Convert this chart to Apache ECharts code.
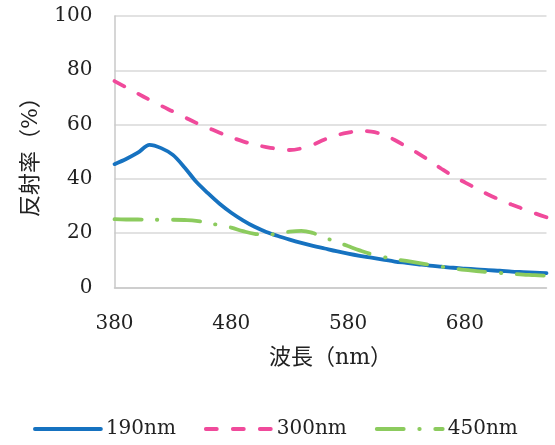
<!DOCTYPE html>
<html><head><meta charset="utf-8">
<script src="https://cdn.jsdelivr.net/npm/echarts@6/dist/echarts.min.js"></script>
<style>html,body{margin:0;padding:0;background:#fff}#c{width:555px;height:445px}</style>
</head><body><div id="c"></div>
<script>
const wavelengths = [380,390,400,410,420,430,440,450,460,470,480,490,500,510,520,530,540,550,560,570,580,590,600,610,620,630,640,650,660,670,680,690,700,710,720,730,740,750];
const r190 = [45.4,47.3,49.6,52.5,51.3,48.8,44.2,38.9,34.7,30.8,27.5,24.7,22.3,20.4,18.9,17.6,16.4,15.3,14.3,13.3,12.4,11.6,10.9,10.2,9.5,9.0,8.5,8.0,7.6,7.2,6.9,6.6,6.3,6.1,5.8,5.6,5.4,5.2];
const r300 = [76.0,73.7,71.4,69.1,66.9,64.8,62.7,60.6,58.8,57.0,55.3,53.8,52.6,51.7,51.0,50.6,51.2,52.6,54.5,56.0,57.0,57.6,57.4,56.2,54.3,51.8,49.4,46.6,43.7,41.0,38.7,36.4,34.2,32.3,30.5,28.9,27.3,25.8];
const r450 = [25.1,25.0,25.0,24.9,24.9,24.9,24.8,24.5,23.7,22.9,22.0,20.7,19.7,19.4,19.8,20.5,20.8,20.0,18.3,16.8,15.2,13.6,12.2,11.2,10.4,9.7,9.0,8.3,7.6,7.0,6.4,6.0,5.6,5.3,5.0,4.7,4.5,4.2];
const seriesNames = ['190nm','300nm','450nm'];
const xTicks = [380,480,580,680];
const yTicks = [0,20,40,60,80,100];
const xTitle = '波長（nm）';
const yTitle = '反射率（%）';

const FONT = '"DejaVu Serif", "Noto Sans CJK JP", serif';
const pairs = arr => wavelengths.map((w,i)=>[w,arr[i]]);
const chart = echarts.init(document.getElementById('c'), null, {renderer:'canvas'});
chart.setOption({
  animation:false,
  grid:{left:114.5,right:8.5,top:16,bottom:157.7,containLabel:false},
  legend:{
    data:seriesNames, bottom:1, left:28, itemWidth:66, itemHeight:10, itemGap:28,
    itemStyle:{opacity:0},
    lineStyle:{width:3.8,cap:'round'},
    textStyle:{fontFamily:FONT,fontSize:20,color:'#222'}
  },
  xAxis:{
    type:'value', min:380, max:750,
    name:xTitle, nameLocation:'middle', nameGap:60,
    nameTextStyle:{fontFamily:FONT,fontSize:22,color:'#222'},
    axisLine:{show:true,lineStyle:{color:'#c8c8c8',width:1.5}},
    axisTick:{show:false},
    splitLine:{show:false},
    axisLabel:{customValues:xTicks,margin:26,fontFamily:FONT,fontSize:20,color:'#222'}
  },
  yAxis:{
    type:'value', min:0, max:100, interval:20,
    name:yTitle, nameLocation:'middle', nameGap:72, nameRotate:90,
    nameTextStyle:{fontFamily:FONT,fontSize:22,color:'#222'},
    axisLine:{show:true,lineStyle:{color:'#c8c8c8',width:1.5}},
    axisTick:{show:false},
    splitLine:{show:true,lineStyle:{color:'#d9d9d9',width:1.5}},
    axisLabel:{margin:22,fontFamily:FONT,fontSize:20,color:'#222'}
  },
  series:[
    {name:seriesNames[0],type:'line',data:pairs(r190),smooth:0.3,symbol:'none',
     lineStyle:{color:'#1672C0',width:3.8,cap:'round'},itemStyle:{color:'#1672C0'}},
    {name:seriesNames[1],type:'line',data:pairs(r300),smooth:0.4,symbol:'none',
     lineStyle:{color:'#F04A9B',width:3.8,type:[11,16],cap:'round'},itemStyle:{color:'#F04A9B'}},
    {name:seriesNames[2],type:'line',data:pairs(r450),smooth:0.4,symbol:'none',
     lineStyle:{color:'#8CCB5E',width:3.8,type:[27,15.5,0.5,15.5],cap:'round'},itemStyle:{color:'#8CCB5E'}}
  ]
});
</script></body></html>
